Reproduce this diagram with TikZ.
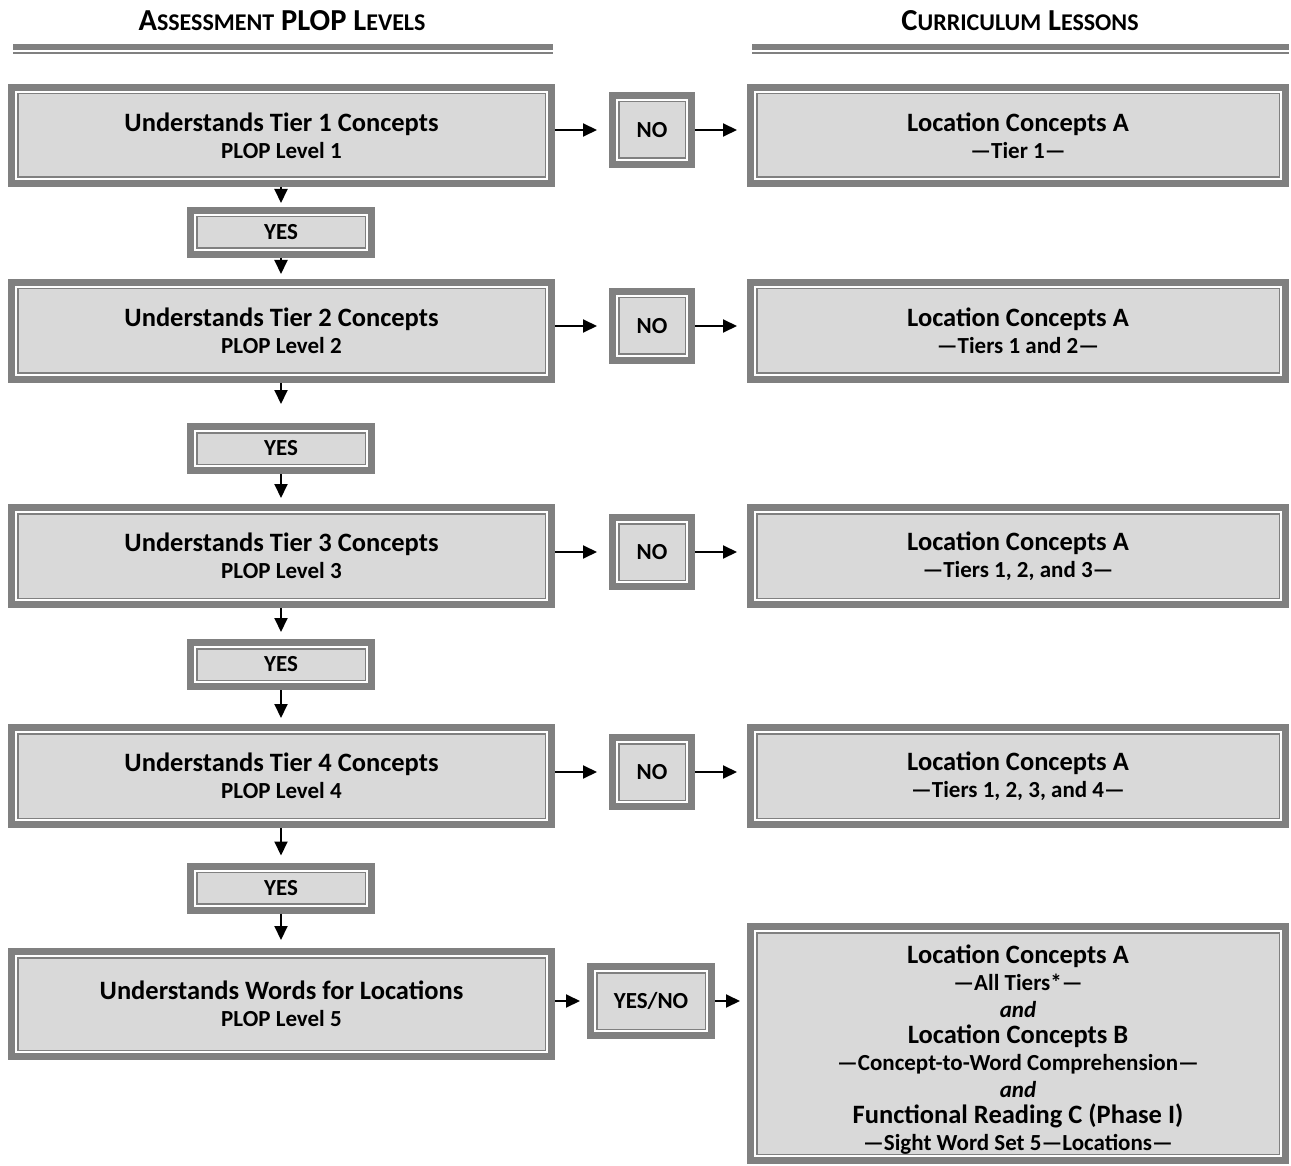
\documentclass[tikz,border=0pt]{standalone}
\usepackage{fontspec}
\setmainfont{Carlito}
\usetikzlibrary{arrows.meta}

\definecolor{framegray}{HTML}{808080}
\definecolor{boxfill}{HTML}{D9D9D9}

% line sizes used inside the boxes and in the headings
\newcommand\bigline[1]{{\fontsize{26.5}{26.7}\selectfont #1}}
\newcommand\hdsmall[1]{{\fontsize{24}{30}\selectfont #1}}

\tikzset{
  framebox/.style={
    draw=framegray, line width=7pt, fill=boxfill, inner sep=0pt, align=center,
    font=\bfseries\fontsize{23}{26.7}\selectfont,
    path picture={
      \draw[white, line width=2pt]
        ([shift={(4.5pt,4.5pt)}]path picture bounding box.south west) rectangle
        ([shift={(-4.5pt,-4.5pt)}]path picture bounding box.north east);
      \draw[framegray, line width=1.5pt]
        ([shift={(6.25pt,6.25pt)}]path picture bounding box.south west) rectangle
        ([shift={(-6.25pt,-6.25pt)}]path picture bounding box.north east);
    }},
  levelbox/.style={framebox, minimum width=540pt},
  lessonbox/.style={framebox, minimum width=535pt},
  nobox/.style={framebox, minimum width=79pt, minimum height=69pt},
  yesbox/.style={framebox, minimum width=181pt, minimum height=44pt},
  header/.style={font=\bfseries\fontsize{30.5}{32}\selectfont, inner sep=0pt},
  flow/.style={line width=2pt, -{Triangle[length=14pt,width=13pt]}},
  rulethick/.style={draw=framegray, line width=6pt},
  rulethin/.style={draw=framegray, line width=2pt},
}

\begin{document}
\begin{tikzpicture}[x=1pt, y=-1pt]
  \useasboundingbox (0,0) rectangle (1291,1166);

  % column headings with their double rules
  \node[header] (hl) at (282,21)
    {A\hdsmall{SSESSMENT} PLOP L\hdsmall{EVELS}};
  \node[header] (hr) at (1020,21)
    {C\hdsmall{URRICULUM} L\hdsmall{ESSONS}};
  \draw[rulethick] (13,47.5) -- (553,47.5);
  \draw[rulethin]  (13,53.5) -- (553,53.5);
  \draw[rulethick] (752,47.5) -- (1289,47.5);
  \draw[rulethin]  (752,53.5) -- (1289,53.5);

  % assessment levels
  \node[levelbox, minimum height=96pt] (L1) at (281.5,135.5)
    {\bigline{Understands Tier 1 Concepts}\\PLOP Level 1};
  \node[levelbox, minimum height=97pt] (L2) at (281.5,331)
    {\bigline{Understands Tier 2 Concepts}\\PLOP Level 2};
  \node[levelbox, minimum height=97pt] (L3) at (281.5,556)
    {\bigline{Understands Tier 3 Concepts}\\PLOP Level 3};
  \node[levelbox, minimum height=97pt] (L4) at (281.5,776)
    {\bigline{Understands Tier 4 Concepts}\\PLOP Level 4};
  \node[levelbox, minimum height=105pt] (L5) at (281.5,1004)
    {\bigline{Understands Words for Locations}\\PLOP Level 5};

  % yes branches
  \node[yesbox] (Y1) at (281,232.5) {YES};
  \node[yesbox] (Y2) at (281,448.5) {YES};
  \node[yesbox] (Y3) at (281,664.5) {YES};
  \node[yesbox] (Y4) at (281,888) {YES};

  % no branches
  \node[nobox] (N1) at (652,130) {NO};
  \node[nobox] (N2) at (652,326) {NO};
  \node[nobox] (N3) at (652,552) {NO};
  \node[nobox] (N4) at (652,772) {NO};
  \node[framebox, minimum width=121pt, minimum height=69pt] (N5) at (651,1001) {YES/NO};

  % curriculum lessons
  \node[lessonbox, minimum height=96pt] (R1) at (1018,135.5)
    {\bigline{Location Concepts A}\\—Tier 1—};
  \node[lessonbox, minimum height=97pt] (R2) at (1018,331)
    {\bigline{Location Concepts A}\\—Tiers 1 and 2—};
  \node[lessonbox, minimum height=97pt] (R3) at (1018,556)
    {\bigline{Location Concepts A}\\—Tiers 1, 2, and 3—};
  \node[lessonbox, minimum height=97pt] (R4) at (1018,776)
    {\bigline{Location Concepts A}\\—Tiers 1, 2, 3, and 4—};
  \node[lessonbox, minimum height=234pt] (R5) at (1018,1043.5)
    {\rule{0pt}{31pt}\bigline{Location Concepts A}\\—All Tiers*—\\\textit{and}\\
     \bigline{Location Concepts B}\\—Concept-to-Word Comprehension—\\\textit{and}\\
     \bigline{Functional Reading C (Phase I)}\\—Sight Word Set 5—Locations—};

  % downward flow
  \draw[flow, shorten >=4pt] (L1.south -| Y1.north) -- (Y1.north);
  \draw[flow, shorten >=5pt] (Y1.south) -- (L2.north -| Y1.south);
  \draw[flow, shorten >=19pt] (L2.south -| Y2.north) -- (Y2.north);
  \draw[flow, shorten >=6pt] (Y2.south) -- (L3.north -| Y2.south);
  \draw[flow, shorten >=7pt] (L3.south -| Y3.north) -- (Y3.north);
  \draw[flow, shorten >=6pt] (Y3.south) -- (L4.north -| Y3.south);
  \draw[flow, shorten >=7pt] (L4.south -| Y4.north) -- (Y4.north);
  \draw[flow, shorten >=8pt] (Y4.south) -- (L5.north -| Y4.south);

  % sideways flow
  \foreach \i in {1,2,3,4} {
    \draw[flow, shorten >=12pt] (L\i.east |- N\i.west) -- (N\i.west);
    \draw[flow, shorten >=10pt] (N\i.east) -- (R\i.west |- N\i.east);
  }
  \draw[flow, shorten >=7pt] (L5.east |- N5.west) -- (N5.west);
  \draw[flow, shorten >=7pt] (N5.east) -- (R5.west |- N5.east);
\end{tikzpicture}
\end{document}
